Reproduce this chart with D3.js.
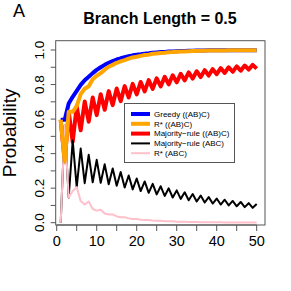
<!DOCTYPE html>
<html>
<head>
<meta charset="utf-8">
<script src="https://cdn.jsdelivr.net/npm/d3@7"></script>
<style>
  body { margin: 0; background: #fff; }
  text { font-family: "Liberation Sans", Arial, sans-serif; }
</style>
</head>
<body>
<div id="chart"></div>
<script>
// number of genes (x)
const genes = [1,2,3,4,5,6,7,8,9,10,11,12,13,14,15,16,17,18,19,20,21,22,23,24,25,
  26,27,28,29,30,31,32,33,34,35,36,37,38,39,40,41,42,43,44,45,46,47,48,49,50];

const greedyAB = [0.596,0.596,0.690,0.729,0.763,0.798,0.825,0.845,0.866,0.885,
  0.900,0.914,0.926,0.936,0.945,0.952,0.958,0.964,0.969,0.972,
  0.975,0.979,0.981,0.984,0.986,0.988,0.989,0.991,0.992,0.993,
  0.994,0.9945,0.995,0.996,0.9965,0.997,0.9975,0.998,0.998,0.998,
  0.9985,0.9985,0.999,0.999,0.999,0.999,0.999,0.999,0.999,0.999];

const rstarAB = [0.596,0.355,0.642,0.642,0.675,0.745,0.776,0.790,0.831,0.851,
  0.866,0.886,0.903,0.914,0.926,0.934,0.941,0.950,0.957,0.961,
  0.966,0.971,0.973,0.978,0.980,0.982,0.984,0.987,0.988,0.990,
  0.991,0.9915,0.993,0.994,0.9945,0.995,0.996,0.9966,0.9968,0.997,
  0.9975,0.9976,0.998,0.998,0.998,0.998,0.9985,0.9985,0.9985,0.9986];

const majAB = [0.596,0.355,0.642,0.468,0.675,0.535,0.702,0.585,0.725,0.623,
  0.744,0.654,0.762,0.681,0.777,0.704,0.791,0.725,0.804,0.743,
  0.815,0.760,0.826,0.775,0.836,0.789,0.845,0.801,0.854,0.813,
  0.862,0.824,0.870,0.834,0.877,0.843,0.883,0.852,0.889,0.860,
  0.895,0.867,0.900,0.874,0.905,0.880,0.910,0.887,0.914,0.892];

const majABC = [0,0.563,0.146,0.476,0.206,0.429,0.229,0.393,0.234,0.364,
  0.231,0.338,0.223,0.314,0.214,0.293,0.204,0.273,0.193,0.256,
  0.183,0.239,0.173,0.225,0.164,0.211,0.155,0.199,0.146,0.187,
  0.138,0.176,0.130,0.166,0.123,0.157,0.117,0.148,0.111,0.140,
  0.105,0.133,0.100,0.126,0.095,0.120,0.090,0.113,0.086,0.108];

const rstarABC = [0,0.564,0.146,0.184,0.206,0.125,0.105,0.123,0.079,0.070,
  0.075,0.053,0.047,0.048,0.036,0.032,0.032,0.025,0.022,0.022,
  0.0175,0.0155,0.0155,0.0123,0.011,0.011,0.0087,0.0078,0.0077,0.0062,
  0.0055,0.0055,0.0044,0.004,0.0039,0.0032,0.0029,0.0028,0.0023,0.0021,
  0.002,0.0017,0.0015,0.0015,0.0012,0.0011,0.0011,0.0009,0.0008,0.0008];

const xTicks = [0,5,10,15,20,25,30,35,40,45,50];
const xLabels = [0,10,20,30,40,50];
const yTicks = [0,0.1,0.2,0.3,0.4,0.5,0.6,0.7,0.8,0.9,1.0];
const yLabels = [0,0.2,0.4,0.6,0.8,1.0];

const legendNames = ["Greedy ((AB)C)", "R* ((AB)C)", "Majority\u2212rule ((AB)C)",
  "Majority\u2212rule (ABC)", "R* (ABC)"];

let series = [
  { name: legendNames[0], values: greedyAB, color: "#0000ff", lw: 4 },
  { name: legendNames[1], values: rstarAB, color: "#ffa500", lw: 4 },
  { name: legendNames[2], values: majAB, color: "#ff0000", lw: 4 },
  { name: legendNames[3], values: majABC, color: "#000000", lw: 2 },
  { name: legendNames[4], values: rstarABC, color: "#ffc0cb", lw: 2 }
];

const W = 291, H = 291;
const box = { left: 55.7, right: 265, top: 40.7, bottom: 225 };

let svg = d3.select("#chart").append("svg")
  .attr("width", W)
  .attr("height", H);

let x = d3.scaleLinear().domain([0, 50]).range([56.7, 256.7]);
let y = d3.scaleLinear().domain([0, 1]).range([222.7, 50]);

// panel letter + title
svg.append("text").attr("x", 13).attr("y", 17)
  .style("font-size", "18px").text("A");
svg.append("text").attr("x", 160).attr("y", 23.5)
  .attr("text-anchor", "middle")
  .style("font-size", "16px").style("font-weight", "bold")
  .text("Branch Length = 0.5");

// y label
svg.append("text")
  .attr("transform", "translate(15.5," + ((box.top + box.bottom) / 2) + ") rotate(-90)")
  .attr("text-anchor", "middle")
  .style("font-size", "19px")
  .text("Probability");

// lines, drawn in this order so the overlaps look right
let line = d3.line()
  .x((d, i) => x(genes[i]))
  .y(d => y(d));

let drawOrder = [2, 3, 4, 0, 1];
drawOrder.forEach(k => {
  let s = series[k];
  svg.append("path")
    .datum(s.values)
    .attr("fill", "none")
    .attr("stroke", s.color)
    .attr("stroke-width", s.lw)
    .attr("stroke-linejoin", "round")
    .attr("d", line);
});

// box
svg.append("rect")
  .attr("x", box.left).attr("y", box.top)
  .attr("width", box.right - box.left)
  .attr("height", box.bottom - box.top)
  .attr("fill", "none")
  .attr("stroke", "#555")
  .attr("stroke-width", 1);

// x axis
let xAxis = svg.append("g").attr("transform", "translate(0," + box.bottom + ")");
xAxis.append("line")
  .attr("x1", x(0)).attr("x2", x(50))
  .attr("stroke", "#555");
xAxis.selectAll(".xt").data(xTicks).enter().append("line")
  .attr("x1", d => x(d)).attr("x2", d => x(d))
  .attr("y1", 0).attr("y2", 6)
  .attr("stroke", "#555");
xAxis.selectAll(".xl").data(xLabels).enter().append("text")
  .attr("x", d => x(d)).attr("y", 21)
  .attr("text-anchor", "middle")
  .style("font-size", "14.5px")
  .text(d => d);

// y axis
let yAxis = svg.append("g").attr("transform", "translate(" + box.left + ",0)");
yAxis.selectAll(".yt").data(yTicks).enter().append("line")
  .attr("x1", -5).attr("x2", 0)
  .attr("y1", d => y(d)).attr("y2", d => y(d))
  .attr("stroke", "#555");
yAxis.selectAll(".yl").data(yLabels).enter().append("text")
  .attr("transform", d => "translate(-12," + y(d) + ") rotate(-90)")
  .attr("text-anchor", "middle")
  .style("font-size", "13.5px")
  .text(d => d.toFixed(1));

// legend
let lg = svg.append("g");
lg.append("rect")
  .attr("x", 124.5).attr("y", 103.5)
  .attr("width", 110).attr("height", 59)
  .attr("fill", "#fff")
  .attr("stroke", "#555");
series.forEach((s, i) => {
  let ly = 114 + i * 9.8;
  lg.append("line")
    .attr("x1", 131).attr("x2", 150)
    .attr("y1", ly).attr("y2", ly)
    .attr("stroke", s.color)
    .attr("stroke-width", s.lw);
  lg.append("text")
    .attr("x", 154).attr("y", ly)
    .attr("dy", "0.35em")
    .style("font-size", "8px")
    .text(s.name);
});
</script>
</body>
</html>
